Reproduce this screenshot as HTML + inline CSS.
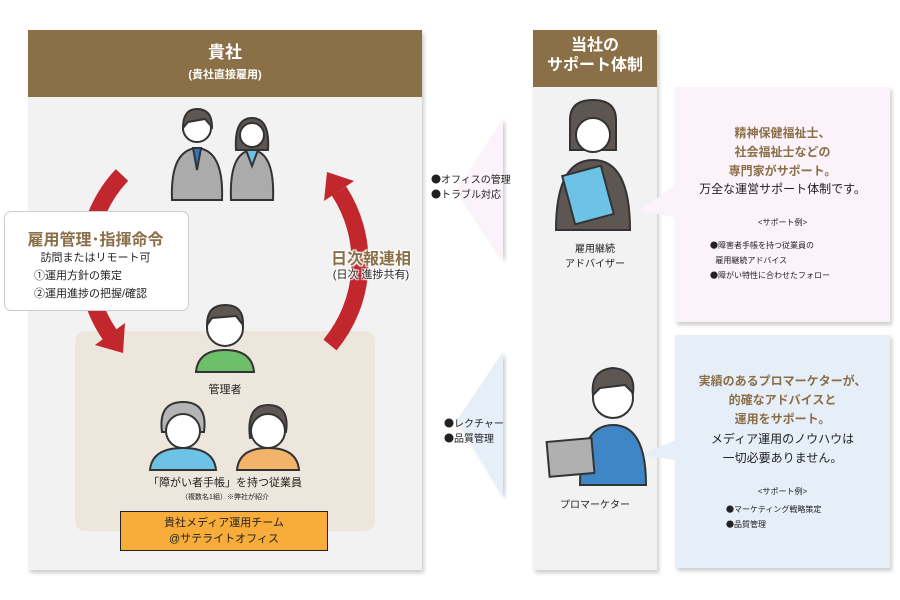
<!DOCTYPE html>
<html><head><meta charset="utf-8"><style>
body{margin:0;width:900px;height:600px;background:#fff;position:relative;overflow:hidden;font-family:"Liberation Sans","Noto Sans CJK JP",sans-serif;color:#222}
.a{position:absolute}
.t{position:absolute;text-align:center;white-space:nowrap}
.brown{color:#8a6f47;font-weight:bold}
.j{font-family:"Noto Sans CJK JP",sans-serif}
.halo{text-shadow:0 0 2px #fff,0 0 2px #fff,1px 1px 1px #fff,-1px -1px 1px #fff,1px -1px 1px #fff,-1px 1px 1px #fff}
</style></head><body>
<div class="a" style="left:28px;top:30px;width:394px;height:540px;background:#f2f2f2;box-shadow:2px 3px 4px rgba(0,0,0,.2)"></div>
<div class="a" style="left:28px;top:30px;width:394px;height:67px;background:#8a6f47"></div>
<div class="t" style="left:28px;width:394px;top:38px;color:#fff;font-weight:bold;font-size:17px">貴社</div>
<div class="t" style="left:28px;width:394px;top:66px;color:#fff;font-weight:bold;font-size:11px">(貴社直接雇用)</div>
<div class="a" style="left:75px;top:331px;width:300px;height:200px;background:#ede6dc;border-radius:10px"></div>
<div class="a" style="left:533px;top:30px;width:124px;height:540px;background:#f2f2f2;box-shadow:2px 3px 4px rgba(0,0,0,.2)"></div>
<div class="a" style="left:533px;top:30px;width:124px;height:57px;background:#8a6f47"></div>
<div class="t" style="left:533px;width:124px;top:36px;color:#fff;font-weight:bold;font-size:16px;line-height:20px">当社の<br>サポート体制</div>
<div class="a" style="left:675px;top:87px;width:215px;height:235px;background:#fcf3fa;box-shadow:2px 3px 4px rgba(0,0,0,.2)"></div>
<div class="a" style="left:675px;top:335px;width:215px;height:233px;background:#e6eef8;box-shadow:2px 3px 4px rgba(0,0,0,.2)"></div>
<svg class="a" style="left:0;top:0" width="900" height="600">
<defs><filter id="s"><feDropShadow dx="2" dy="2" stdDeviation="1.5" flood-opacity=".2"/></filter></defs>
<polygon points="503,118 503,260 457,190" fill="#fcf3fa" filter="url(#s)"/>
<polygon points="503,352 503,497 457,420" fill="#e6eef8" filter="url(#s)"/>
<polygon points="640,210 676,185 676,218" fill="#fcf3fa"/>
<polygon points="640,455 676,440 676,460" fill="#e6eef8"/>
<path d="M122,175 A127,127 0 0 0 110,335" fill="none" stroke="#c1272d" stroke-width="17"/>
<polygon points="123,353 125,323 95,345" fill="#c1272d"/>
<path d="M330,345 A130,130 0 0 0 339,191" fill="none" stroke="#c1272d" stroke-width="17"/>
<polygon points="327,172 354,181 324,201" fill="#c1272d"/>
<g stroke="#333" stroke-width="2">
<path d="M172,200 Q170,150 197,148 Q224,150 222,200Z" fill="#ababab"/>
<path d="M193,148 L197,170 L201,148Z" fill="#2f78c0"/>
<circle cx="197" cy="128" r="14" fill="#fff"/>
<path d="M183,128 Q183,109 197,109 Q212,109 212,127 L205,119 L188,122Z" fill="#5e5652"/>
<path d="M231,200 Q229,152 252,150 Q275,152 273,200Z" fill="#ababab"/>
<path d="M246,150 L252,166 L258,150Z" fill="#6cc3e6"/>
<path d="M236,150 Q234,118 252,118 Q270,118 268,150Z" fill="#5e5652"/>
<circle cx="252" cy="135" r="12" fill="#fff"/>
<path d="M556,230 Q556,160 593,160 Q630,160 630,230Z" fill="#5e5652"/>
<path d="M570,120 Q570,100 593,100 Q616,100 616,120 L616,150 L570,150Z" fill="#5e5652"/>
<circle cx="593" cy="135" r="17" fill="#fff"/>
<rect x="568" y="170" width="40" height="50" fill="#6cc3e6" transform="rotate(-15 588 195)"/>
<path d="M580,485 Q580,425 613,425 Q646,425 646,485Z" fill="#3e86c6"/>
<circle cx="613" cy="398" r="20" fill="#fff"/>
<path d="M593,395 Q590,370 613,368 Q636,370 633,393 L625,385 L600,388Z" fill="#5e5652"/>
<rect x="548" y="440" width="45" height="35" fill="#b0b0b0" transform="rotate(-5 570 457)"/>
<path d="M196,372 Q198,350 225,350 Q252,350 254,372Z" fill="#6ebf6a"/>
<circle cx="225" cy="328" r="18" fill="#fff"/>
<path d="M207,325 Q207,305 225,305 Q244,305 243,325 L236,316 L212,318Z" fill="#5e5652"/>
<path d="M150,470 Q152,448 183,448 Q214,448 216,470Z" fill="#6cc3e6"/>
<path d="M162,432 Q158,402 183,402 Q208,402 204,432Z" fill="#b4b4b4"/>
<circle cx="183" cy="431" r="17" fill="#fff"/>
<path d="M237,470 Q239,448 268,448 Q297,448 299,470Z" fill="#f4b36b"/>
<path d="M250,438 Q246,405 268,405 Q290,405 286,432Z" fill="#5e5652"/>
<circle cx="268" cy="431" r="17" fill="#fff"/>
</g>
</svg>
<div class="a" style="left:4px;top:211px;width:183px;height:98px;background:#fff;border:1px solid #ccc;border-radius:7px"></div>
<div class="t brown" style="left:4px;width:183px;top:226px;font-size:16px">雇用管理･指揮命令</div>
<div class="t" style="left:4px;width:183px;top:249px;font-size:11px">訪問またはリモート可</div>
<div class="a" style="left:34px;top:267px;font-size:11px;line-height:18px">①運用方針の策定<br>②運用進捗の把握/確認</div>
<div class="t brown halo" style="left:326px;width:90px;top:245px;font-size:16px">日次報連相</div>
<div class="t halo" style="left:326px;width:90px;top:266px;font-size:11px">(日次 進捗共有)</div>
<div class="t" style="left:75px;width:300px;top:381px;font-size:11px">管理者</div>
<div class="t" style="left:75px;width:300px;top:474px;font-size:11px">「障がい者手帳」を持つ従業員</div>
<div class="t" style="left:75px;width:300px;top:492px;font-size:7px">（複数名1組）※弊社が紹介</div>
<div class="a" style="left:120px;top:511px;width:208px;height:40px;background:#f8ad3a;border:1px solid #222;box-sizing:border-box"></div>
<div class="t" style="left:120px;width:208px;top:515px;font-size:11px;line-height:16px">貴社メディア運用チーム<br>@サテライトオフィス</div>
<div class="a j" style="left:431px;top:171px;font-size:10px;line-height:15px">●オフィスの管理<br>●トラブル対応</div>
<div class="a j" style="left:444px;top:415px;font-size:10px;line-height:15px">●レクチャー<br>●品質管理</div>
<div class="t" style="left:533px;width:124px;top:242px;font-size:10px;line-height:15px">雇用継続<br>アドバイザー</div>
<div class="t" style="left:533px;width:124px;top:496px;font-size:10px">プロマーケター</div>
<div class="t brown" style="left:675px;width:215px;top:124px;font-size:12px;line-height:19px">精神保健福祉士、<br>社会福祉士などの<br>専門家がサポート。</div>
<div class="t" style="left:675px;width:215px;top:180px;font-size:12px">万全な運営サポート体制です。</div>
<div class="t" style="left:675px;width:215px;top:217px;font-size:8px">&lt;サポート例&gt;</div>
<div class="a j" style="left:710px;top:238px;font-size:8px;line-height:15px">●障害者手帳を持つ従業員の<br>&nbsp;&nbsp;&nbsp;雇用継続アドバイス<br>●障がい特性に合わせたフォロー</div>
<div class="t brown" style="left:675px;width:215px;top:372px;font-size:12px;line-height:19px">実績のあるプロマーケターが、<br>的確なアドバイスと<br>運用をサポート。</div>
<div class="t" style="left:675px;width:215px;top:430px;font-size:12px;line-height:19px">メディア運用のノウハウは<br>一切必要ありません。</div>
<div class="t" style="left:675px;width:215px;top:486px;font-size:8px">&lt;サポート例&gt;</div>
<div class="a j" style="left:726px;top:502px;font-size:8px;line-height:15px">●マーケティング戦略策定<br>●品質管理</div>
</body></html>
